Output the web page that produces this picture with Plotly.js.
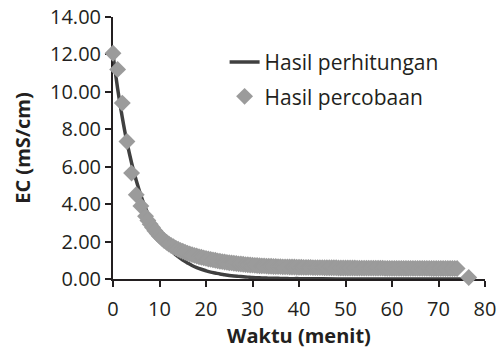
<!DOCTYPE html>
<html>
<head>
<meta charset="utf-8">
<script src="https://cdn.plot.ly/plotly-3.0.1.min.js"></script>
<style>html,body{margin:0;padding:0;background:#fff;}#chart{width:497px;height:353px;}</style>
</head>
<body>
<div id="chart"></div>
<script>
// Calculated curve (Hasil perhitungan)
const calcTime = [0,1,2,3,4,5,6,7,8,9,10,11,12,13,14,15,16,17,18,19,20,21,22,23,24,25,26,27,28,29,30,31,32,33,34,35,36,37,38,39,40,41,45,50,55,60,65,70,77];
const calcEC = [12.00,10.17,8.63,7.31,6.20,5.26,4.46,3.78,3.20,2.72,2.30,1.95,1.66,1.40,1.19,1.01,0.86,0.72,0.61,0.52,0.44,0.37,0.32,0.27,0.23,0.19,0.16,0.14,0.12,0.10,0.08,0.07,0.06,0.05,0.04,0.04,0.03,0.03,0.02,0.02,0.02,0.01,0.01,0.00,0.00,0.00,0.00,0.00,0.00];

// Experimental data (Hasil percobaan)
const expTime = [
  0,1,2,3,4,5,6,7,
  7.5,8,8.5,9,9.5,10,10.5,11,11.5,12,
  12.5,13,13.5,14,14.5,15,15.5,16,16.5,17,
  17.5,18,18.5,19,19.5,20,20.5,21,21.5,22,
  22.5,23,23.5,24,24.5,25,25.5,26,26.5,27,
  27.5,28,28.5,29,29.5,30,30.5,31,31.5,32,
  32.5,33,33.5,34,34.5,35,35.5,36,36.5,37,
  37.5,38,38.5,39,39.5,40,40.5,41,41.5,42,
  42.5,43,43.5,44,44.5,45,45.5,46,46.5,47,
  47.5,48,48.5,49,49.5,50,50.5,51,51.5,52,
  52.5,53,53.5,54,54.5,55,55.5,56,56.5,57,
  57.5,58,58.5,59,59.5,60,60.5,61,61.5,62,
  62.5,63,63.5,64,64.5,65,65.5,66,66.5,67,
  67.5,68,68.5,69,69.5,70,70.5,71,71.5,72,
  72.5,73,73.5,74,
  76.5
];
const expEC = [
  12.06,11.20,9.40,7.35,5.66,4.50,3.90,3.35,
  3.13,2.93,2.75,2.58,2.43,2.29,2.17,2.06,1.96,1.87,
  1.79,1.72,1.65,1.59,1.53,1.48,1.43,1.38,1.34,1.30,
  1.26,1.23,1.19,1.16,1.13,1.10,1.07,1.05,1.02,1.00,
  0.97,0.95,0.93,0.91,0.89,0.87,0.86,0.84,0.83,0.81,
  0.80,0.79,0.77,0.76,0.75,0.74,0.73,0.72,0.71,0.70,
  0.70,0.69,0.68,0.68,0.67,0.67,0.66,0.66,0.65,0.65,
  0.65,0.64,0.64,0.64,0.63,0.63,0.63,0.62,0.62,0.62,
  0.62,0.61,0.61,0.61,0.61,0.61,0.60,0.60,0.60,0.60,
  0.60,0.60,0.59,0.59,0.59,0.59,0.59,0.59,0.59,0.59,
  0.58,0.58,0.58,0.58,0.58,0.58,0.58,0.58,0.58,0.58,
  0.58,0.58,0.57,0.57,0.57,0.57,0.57,0.57,0.57,0.57,
  0.57,0.57,0.57,0.57,0.57,0.57,0.57,0.57,0.57,0.57,
  0.57,0.57,0.56,0.56,0.56,0.56,0.56,0.56,0.56,0.56,
  0.56,0.56,0.56,0.56,
  0.08
];

const seriesNames = ['Hasil perhitungan','Hasil percobaan'];
const xTitle = 'Waktu (menit)';
const yTitle = 'EC (mS/cm)';

const textColor = '#231f20';
const fontFam = 'Open Sans, sans-serif';

const traces = [
  {
    x: calcTime, y: calcEC, name: seriesNames[0], type: 'scatter', mode: 'lines',
    line: {color: '#404040', width: 3.5, shape: 'spline'},
    legendgroup: 'a', cliponaxis: false
  },
  {
    x: expTime, y: expEC, name: seriesNames[1], type: 'scatter', mode: 'markers',
    marker: {symbol: 'diamond', size: 13, color: '#9b9b9b', line: {width: 0}},
    legendgroup: 'b', cliponaxis: false
  }
];

const axisCommon = {
  showline: true, linecolor: textColor, linewidth: 2,
  ticks: 'outside', ticklen: 6, tickwidth: 2, tickcolor: textColor,
  showgrid: false, zeroline: false, layer: 'below traces',
  tickfont: {family: fontFam, size: 20, color: textColor}
};

const layout = {
  width: 497, height: 353,
  margin: {l: 113, r: 12, t: 17, b: 73.5},
  paper_bgcolor: '#ffffff', plot_bgcolor: '#ffffff',
  showlegend: true,
  legend: {
    x: 0.30, y: 0.905, xanchor: 'left', yanchor: 'top',
    bgcolor: 'rgba(0,0,0,0)', traceorder: 'grouped', tracegroupgap: 4,
    font: {family: fontFam, size: 21, color: textColor}
  },
  xaxis: Object.assign({}, axisCommon, {
    range: [0, 80], dtick: 10, tick0: 0, ticklabelstandoff: 5,
    title: {text: xTitle, standoff: 1, font: {family: fontFam, size: 20, color: textColor, weight: 'bold'}}
  }),
  yaxis: Object.assign({}, axisCommon, {
    range: [0, 14], dtick: 2, tick0: 0, tickformat: '.2f',
    title: {text: yTitle, standoff: 14, font: {family: fontFam, size: 20, color: textColor, weight: 'bold'}}
  })
};

Plotly.newPlot('chart', traces, layout, {displayModeBar: false, staticPlot: true});
</script>
</body>
</html>
